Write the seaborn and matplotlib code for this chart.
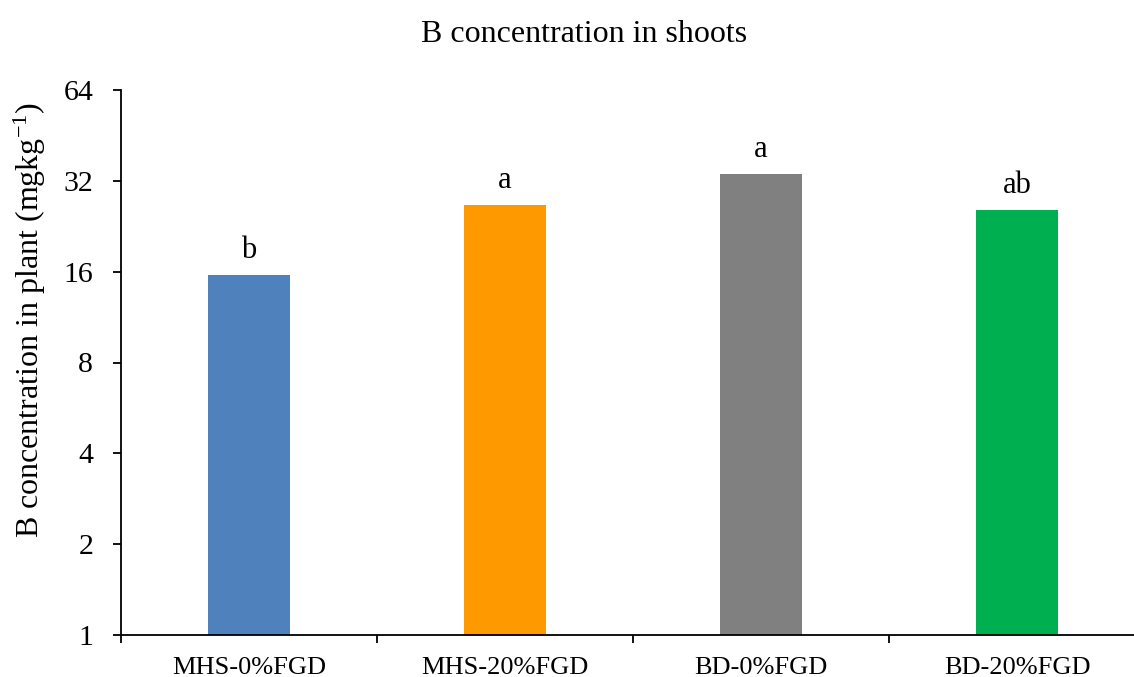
import matplotlib
matplotlib.use("Agg")
import matplotlib.pyplot as plt
from matplotlib.ticker import FixedLocator, NullFormatter
import seaborn as sns
import pandas as pd

# Treatments, mean B concentration (mg/kg) and significance letters
treatments = ["MHS-0%FGD", "MHS-20%FGD", "BD-0%FGD", "BD-20%FGD"]
b_conc = [15.6, 26.7, 33.8, 25.7]
letters = ["b", "a", "a", "ab"]
bar_colors = ["#4F81BD", "#FF9900", "#808080", "#00B050"]
y_ticks = [1, 2, 4, 8, 16, 32, 64]

sns.set_theme(style="white")
plt.rcParams["font.family"] = ["Liberation Serif", "DejaVu Serif"]
plt.rcParams["mathtext.fontset"] = "custom"
plt.rcParams["mathtext.rm"] = "Liberation Serif"
plt.rcParams["mathtext.it"] = "Liberation Serif:italic"

df = pd.DataFrame({"treatment": treatments, "conc": b_conc})

W, H = 1134, 677
fig = plt.figure(figsize=(W / 100, H / 100), dpi=100)
ax = fig.add_axes([121 / W, (H - 635) / H, (1145 - 121) / W, (635 - 90) / H])

sns.barplot(data=df, x="treatment", y="conc", hue="treatment",
            palette=bar_colors, width=0.32, legend=False, ax=ax,
            saturation=1, edgecolor="none", errorbar=None)

ax.set_yscale("log", base=2)
ax.set_ylim(1, 64)
ax.set_xlim(-0.5, 3.5)
ax.yaxis.set_major_locator(FixedLocator(y_ticks))
ax.set_yticklabels([str(t) for t in y_ticks])
ax.yaxis.set_minor_locator(FixedLocator([]))
ax.yaxis.set_minor_formatter(NullFormatter())

# category labels at centres, tick marks on category boundaries
ax.set_xticks(range(len(treatments)))
ax.set_xticklabels(treatments)
ax.set_xticks([-0.5, 0.5, 1.5, 2.5], minor=True)
ax.tick_params(axis="x", which="both", bottom=True)
ax.tick_params(axis="y", which="both", left=True)
ax.tick_params(axis="x", which="major", length=0, pad=16, labelsize=19, colors="black")
ax.tick_params(axis="x", which="minor", length=6, width=1.3, direction="out", color="black")
ax.tick_params(axis="y", which="major", length=6, width=1.3, direction="out",
               labelsize=21.5, pad=14, colors="black")

for side in ["top", "right"]:
    ax.spines[side].set_visible(False)
for side in ["left", "bottom"]:
    ax.spines[side].set_color("black")
    ax.spines[side].set_linewidth(1.3)

ax.set_xlabel("")
ax.set_ylabel("")
fig.text(30 / W, 1 - 320 / H, "B concentration in plant (mgkg$^{-1}$)", rotation=90,
         ha="center", va="center", fontsize=23, color="black")

for i, (v, lab) in enumerate(zip(b_conc, letters)):
    ax.annotate(lab, xy=(i, v), xytext=(0, 7), textcoords="offset points",
                ha="center", va="bottom", fontsize=22, color="black")

fig.text(584 / W, 1 - 34 / H, "B concentration in shoots", ha="center", va="center",
         fontsize=23, color="black")

fig.savefig("out.png", dpi=100)
